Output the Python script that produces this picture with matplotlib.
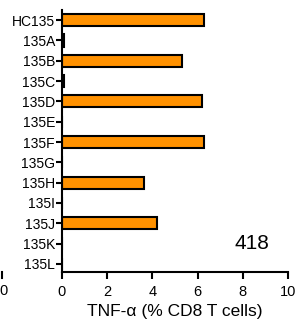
import matplotlib
matplotlib.use("Agg")
import matplotlib.pyplot as plt
from matplotlib.lines import Line2D

categories = ["HC135", "135A", "135B", "135C", "135D", "135E", "135F",
              "135G", "135H", "135I", "135J", "135K", "135L"]
values = [6.3, 0.08, 5.3, 0.08, 6.2, 0.0, 6.3, 0.0, 3.65, 0.0, 4.2, 0.0, 0.0]
xticks = [0, 2, 4, 6, 8, 10]
panel_label = "418"
xlabel = "TNF-\u03b1 (% CD8 T cells)"

plt.rcParams['font.family'] = ['Liberation Sans', 'DejaVu Sans']

fig = plt.figure(figsize=(2.96, 3.31), dpi=100)
W, H = 296, 331
ax = fig.add_axes([62 / W, (H - 272) / H, (288 - 62) / W, (272 - 10) / H])

ypos = list(range(len(categories)))
ax.barh(ypos, values, height=0.6, color="#FF9100", edgecolor="black", linewidth=1.5)
ax.set_yticks(ypos)
ax.set_yticklabels(categories, fontsize=10)
ax.set_ylim(12.4, -0.5)
ax.set_xlim(0, 10)
ax.set_xticks(xticks)
ax.set_xticklabels([str(t) for t in xticks], fontsize=10.5)
ax.set_xlabel(xlabel, fontsize=12.5, labelpad=4)
for s in ["top", "right"]:
    ax.spines[s].set_visible(False)
for s in ["left", "bottom"]:
    ax.spines[s].set_linewidth(1.5)
ax.tick_params(axis="y", width=1.5, length=4, pad=1)
ax.tick_params(axis="x", width=1.5, length=5, pad=4)
ax.text(0.84, 0.11, panel_label, transform=ax.transAxes, fontsize=15,
        ha="center", va="center")

# stray fragment of neighbouring panel
fig.text(4 / W, (H - 291) / H, "0", fontsize=10.5, ha="center", va="center")
fig.add_artist(Line2D([1.5 / W, 1.5 / W], [(H - 278) / H, (H - 272) / H],
                      color="black", linewidth=1.5, transform=fig.transFigure))

fig.savefig("out.png", dpi=100)
